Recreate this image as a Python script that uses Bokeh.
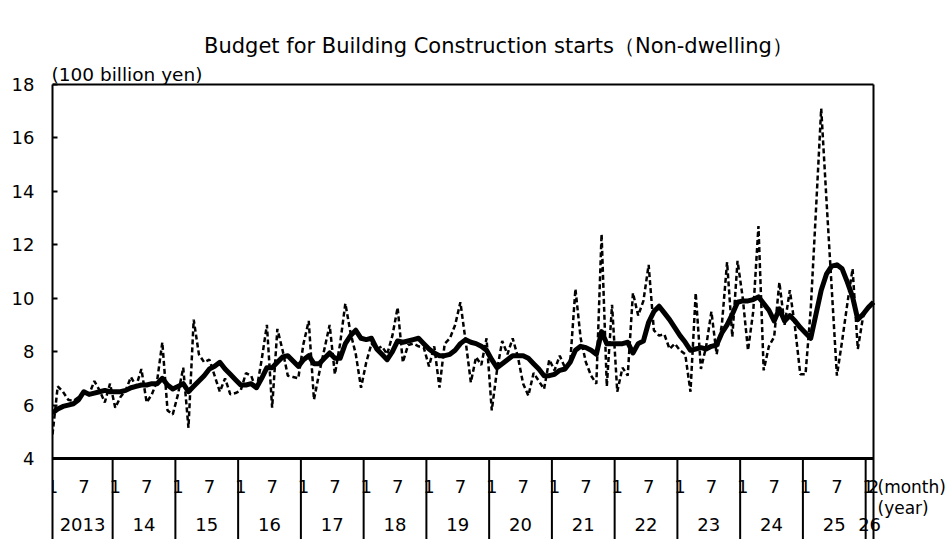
from bokeh.plotting import figure
from bokeh.models import Range1d, FixedTicker, Label, LabelSet, ColumnDataSource
from bokeh.core.properties import value
from bokeh.embed import file_html
from bokeh.resources import INLINE

# ---------------- data (100 billion yen), Jan 2013 .. Feb 2026 ----------------
start_year = 2013
start_month = 1

monthly = [
    4.9, 6.7, 6.5, 6.2, 6.15, 6.3, 6.5, 6.4, 6.9, 6.55, 6.1, 6.8,          # 2013
    5.9, 6.3, 6.55, 7.05, 6.7, 7.35, 6.1, 6.4, 6.9, 8.35, 5.8, 5.65,       # 2014
    6.4, 7.4, 5.15, 9.2, 7.9, 7.6, 7.7, 7.1, 6.5, 7.0, 6.4, 6.45,          # 2015
    6.55, 7.2, 7.1, 6.55, 7.7, 9.0, 5.9, 8.85, 8.05, 7.1, 7.05, 7.0,       # 2016
    8.3, 9.15, 6.2, 7.2, 8.1, 9.0, 7.15, 8.3, 9.8, 8.7, 7.9, 6.65,         # 2017
    7.6, 8.3, 8.1, 8.2, 7.9, 8.6, 9.65, 7.6, 8.25, 8.3, 8.2, 8.15,         # 2018
    7.45, 8.2, 6.65, 8.3, 8.5, 9.0, 9.85, 8.4, 6.85, 7.8, 7.5, 8.5,        # 2019
    5.8, 7.3, 8.4, 7.9, 8.5, 7.8, 6.8, 6.35, 7.2, 6.9, 6.6, 7.7,           # 2020
    7.3, 7.85, 7.4, 7.6, 10.35, 8.5, 7.6, 7.1, 6.8, 12.4, 6.7, 9.75,       # 2021
    6.5, 7.4, 7.1, 10.2, 9.35, 9.9, 11.25, 8.8, 8.6, 8.65, 8.1, 8.3,       # 2022
    8.05, 7.9, 6.5, 10.2, 7.35, 8.2, 9.5, 7.9, 9.0, 11.35, 8.55, 11.4,     # 2023
    10.0, 8.05, 9.5, 12.7, 7.3, 8.2, 8.55, 10.6, 9.0, 10.3, 8.9, 7.15,     # 2024
    7.15, 9.6, 13.3, 17.1, 13.7, 10.4, 7.1, 8.4, 9.8, 11.1, 8.1, 9.3,      # 2025
    9.7, 9.85,                                                             # 2026
]

smoothed = [
    5.7, 5.85, 5.95, 6.0, 6.05, 6.2, 6.5, 6.4, 6.45, 6.5, 6.55, 6.5,
    6.5, 6.5, 6.55, 6.65, 6.7, 6.75, 6.75, 6.8, 6.8, 7.0, 6.75, 6.6,
    6.7, 6.8, 6.5, 6.7, 6.9, 7.1, 7.35, 7.45, 7.6, 7.35, 7.15, 6.95,
    6.75, 6.75, 6.8, 6.65, 7.0, 7.4, 7.4, 7.6, 7.8, 7.85, 7.65, 7.45,
    7.7, 7.85, 7.55, 7.55, 7.75, 7.95, 7.75, 7.75, 8.3, 8.6, 8.8, 8.5,
    8.45, 8.5, 8.1, 7.9, 7.7, 8.0, 8.4, 8.35, 8.4, 8.45, 8.5, 8.3,
    8.1, 7.95, 7.85, 7.85, 7.9, 8.05, 8.3, 8.45, 8.35, 8.3, 8.2, 8.05,
    7.7, 7.4, 7.55, 7.7, 7.85, 7.85, 7.85, 7.75, 7.55, 7.35, 7.1, 7.1,
    7.15, 7.3, 7.35, 7.6, 8.05, 8.2, 8.15, 8.05, 7.9, 8.75, 8.3, 8.3,
    8.3, 8.3, 8.35, 7.95, 8.3, 8.4, 9.1, 9.5, 9.7, 9.45, 9.2, 8.9,
    8.6, 8.35, 8.05, 8.1, 8.15, 8.1, 8.2, 8.25, 8.7, 9.0, 9.4, 9.85,
    9.9, 9.9, 9.95, 10.05, 9.8, 9.55, 9.15, 9.6, 9.15, 9.35, 9.15, 8.9,
    8.7, 8.5, 9.4, 10.3, 10.9, 11.2, 11.25, 11.1, 10.6, 10.05, 9.2, 9.4,
    9.65, 9.85,
]

y_ticks = [4, 6, 8, 10, 12, 14, 16, 18]
year_labels = ["2013", "14", "15", "16", "17", "18", "19", "20", "21",
               "22", "23", "24", "25", "26"]
month_label_months = [1, 7]

title_text = "Budget for Building Construction starts\uff08Non-dwelling\uff09"
unit_text = "(100 billion yen)"
month_unit = "(month)"
year_unit = "(year)"

# ---------------- layout (pixels) ----------------
W, H = 949, 539
PLOT_L, PLOT_R, PLOT_T, PLOT_B = 52, 873, 84, 458   # plot-area box on the page

y_lo, y_hi = y_ticks[0], y_ticks[-1]
ppu = (PLOT_B - PLOT_T) / (y_hi - y_lo)
n = len(monthly)
x_idx = list(range(n))
x_last = n - 1
ppx = (PLOT_R - PLOT_L) / x_last

def px_to_y(py):
    return y_lo + (PLOT_B - py) / ppu

def px_to_x(px):
    return (px - PLOT_L) / ppx

FONT = "DejaVu Sans"

p = figure(width=W, height=H,
           x_range=Range1d(0, px_to_x(W)), y_range=Range1d(px_to_y(H), px_to_y(0)),
           output_backend="svg", toolbar_location=None, x_axis_location=None,
           min_border_left=PLOT_L, min_border_right=0,
           min_border_top=0, min_border_bottom=0)
p.outline_line_color = None
p.xgrid.visible = False
p.ygrid.visible = False
p.background_fill_color = "white"
p.border_fill_color = "white"

y_floor = px_to_y(H)

ax = p.yaxis[0]
ax.ticker = FixedTicker(ticks=y_ticks)
ax.bounds = (y_floor, y_hi)
ax.axis_line_width = 2
ax.axis_line_color = "black"
ax.major_tick_in = 5
ax.major_tick_out = 0
ax.minor_tick_in = 0
ax.minor_tick_out = 0
ax.major_tick_line_width = 2
ax.major_tick_line_color = "black"
ax.major_label_text_font = FONT
ax.major_label_text_font_size = "18px"
ax.major_label_text_color = "black"
ax.major_label_standoff = 18

# plot-area border (top, right, bottom of plot)
p.segment(x0=[0, x_last, 0], y0=[y_hi, y_floor, y_lo],
          x1=[x_last, x_last, x_last], y1=[y_hi, y_hi, y_lo],
          line_color="black", line_width=[2, 2, 3])

# series
p.line(x_idx, monthly, line_color="black", line_width=2.5, line_dash="5 3")
p.line(x_idx, smoothed, line_color="black", line_width=5, line_join="round")

# year separators (between December and January)
months = [(start_month - 1 + i) % 12 + 1 for i in range(n)]
years = [start_year + (start_month - 1 + i) // 12 for i in range(n)]
sep_x = [i - 0.5 for i in range(1, n) if months[i] == 1]
p.segment(x0=sep_x, y0=[y_floor] * len(sep_x), x1=sep_x, y1=[y_lo] * len(sep_x),
          line_color="black", line_width=2)

# month labels
y_month = px_to_y(486)
y_year = px_to_y(524)
ml_x, ml_t = [], []
for i in range(n):
    if months[i] in month_label_months or i == n - 1:
        ml_x.append(i)
        ml_t.append(str(months[i]))
msrc = ColumnDataSource(dict(x=ml_x, y=[y_month] * len(ml_x), text=ml_t))
p.add_layout(LabelSet(x="x", y="y", text="text", source=msrc, text_align="center",
                      text_baseline="middle", text_font=value(FONT),
                      text_font_size=value("18px"), text_color="black"))

# year labels centred in each year's span
uniq_years = sorted(set(years))
yl_x, yl_t = [], []
for k, yr in enumerate(uniq_years):
    idx = [i for i in range(n) if years[i] == yr]
    lo = max(idx[0] - 0.5, 0)
    hi = min(idx[-1] + 0.5, x_last)
    yl_x.append((lo + hi) / 2)
    yl_t.append(year_labels[k])
ysrc = ColumnDataSource(dict(x=yl_x, y=[y_year] * len(yl_x), text=yl_t))
p.add_layout(LabelSet(x="x", y="y", text="text", source=ysrc, text_align="center",
                      text_baseline="middle", text_font=value(FONT),
                      text_font_size=value("18px"), text_color="black"))

# texts
p.add_layout(Label(x=px_to_x(498), y=px_to_y(45), text=title_text,
                   text_align="center", text_baseline="middle", text_font=FONT,
                   text_font_size="21px", text_color="black"))
p.add_layout(Label(x=px_to_x(51), y=px_to_y(74), text=unit_text,
                   text_align="left", text_baseline="middle", text_font=FONT,
                   text_font_size="18.5px", text_color="black"))
p.add_layout(Label(x=px_to_x(877), y=px_to_y(486), text=month_unit,
                   text_align="left", text_baseline="middle", text_font=FONT,
                   text_font_size="17px", text_color="black"))
p.add_layout(Label(x=px_to_x(877), y=px_to_y(507), text=year_unit,
                   text_align="left", text_baseline="middle", text_font=FONT,
                   text_font_size="17px", text_color="black"))

open("out.html", "w").write(file_html(p, INLINE))
